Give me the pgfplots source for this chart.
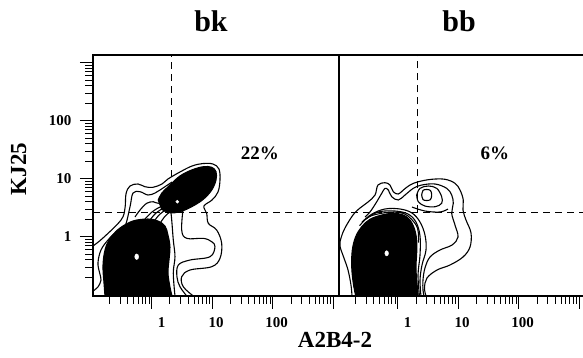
\documentclass[border=0pt]{standalone}
\usepackage{fontspec}
\setmainfont{Liberation Serif}
\usepackage{pgfplots}
\pgfplotsset{compat=1.18}
\begin{document}
\begin{tikzpicture}
\useasboundingbox (0,0) rectangle (583pt,358pt);
\pgfplotsset{
  flow/.style={
    scale only axis, height=241pt,
    ymin=-1.022, ymax=3.133, xmin=-0.970,
    axis line style={-, line width=1.4pt},
    tick align=outside,
    major tick length=13pt, minor tick length=8pt,
    every tick/.style={black, line width=0.9pt},
    every minor tick/.style={black, line width=0.8pt},
    xtick={0,1,2,3}, xticklabels={\hspace{12pt}1,10,100,{}},
    minor xtick={-0.699,-0.523,-0.398,-0.301,-0.222,-0.155,-0.097,-0.046,
      0.301,0.477,0.602,0.699,0.778,0.845,0.903,0.954,
      1.301,1.477,1.602,1.699,1.778,1.845,1.903,1.954,
      2.301,2.477,2.602,2.699,2.778,2.845,2.903,2.954},
    xtick pos=left,
    ticklabel style={font=\fontsize{15}{15}\selectfont\bfseries},
    xticklabel style={xshift=4pt, yshift=-5pt},
    yticklabel style={xshift=-5pt},
  },
  contour/.style={black, line width=1.1pt, smooth, tension=0.6},
  blob/.style={black, fill=black, line width=1.1pt, smooth, tension=0.6},
  quad/.style={black, line width=0.6pt, dash pattern=on 7pt off 5pt},
}
% ---------------- left panel: bk ----------------
\begin{axis}[flow, at={(93pt,62pt)}, anchor=south west, width=246pt, xmax=3.096,
  ytick={0,1,2,3}, yticklabels={1,10,100,{}},
  minor ytick={-0.699,-0.523,-0.398,-0.301,-0.222,-0.155,-0.097,-0.046,
      0.301,0.477,0.602,0.699,0.778,0.845,0.903,0.954,
      1.301,1.477,1.602,1.699,1.778,1.845,1.903,1.954,
      2.301,2.477,2.602,2.699,2.778,2.845,2.903,2.954},
  ytick pos=left]
\addplot[quad] coordinates {(0.319,0.414) (0.319,3.133)};
\addplot[quad] coordinates {(-0.970,0.414) (3.096,0.414)};
% dense lower cluster
\addplot[blob] coordinates {(-0.772,-1.022) (-0.788,-0.798) (-0.805,-0.540) (-0.788,-0.316) (-0.739,-0.126) (-0.656,0.012) (-0.524,0.150) (-0.309,0.271) (-0.061,0.305) (0.104,0.271) (0.220,0.184) (0.269,0.029) (0.302,-0.178) (0.286,-0.402) (0.269,-0.626) (0.302,-0.867) (0.336,-1.022)} -- cycle;
% dense upper cluster
\addplot[blob] coordinates {(0.109,0.633) (0.165,0.748) (0.302,0.891) (0.468,1.047) (0.661,1.150) (0.853,1.207) (0.992,1.197) (1.063,1.121) (1.063,0.978) (0.992,0.805) (0.853,0.645) (0.661,0.517) (0.468,0.431) (0.302,0.414) (0.165,0.472)} -- cycle;
% contour lines
\addplot[contour] coordinates {(-0.970,-0.160) (-0.805,-0.022) (-0.507,0.288) (-0.441,0.495) (-0.425,0.736) (-0.359,0.874) (-0.226,0.909) (-0.111,0.862) (0.021,0.852) (0.170,0.909) (0.269,0.995) (0.468,1.116) (0.666,1.219) (0.848,1.262) (1.013,1.253) (1.112,1.167) (1.129,0.978) (1.096,0.771) (0.997,0.633) (0.864,0.529) (0.909,0.403) (0.936,0.231) (1.074,0.116) (1.157,-0.114) (1.129,-0.372) (0.992,-0.517) (0.633,-0.574) (0.496,-0.690) (0.522,-0.862) (0.688,-1.022)};
\addplot[contour] coordinates {(0.522,0.517) (0.496,0.116) (0.579,-0.028) (0.853,-0.028) (0.992,-0.086) (1.046,-0.172) (0.964,-0.345) (0.633,-0.402) (0.440,-0.488) (0.418,-0.695) (0.468,-0.862) (0.579,-1.022)};
\addplot[contour] coordinates {(0.302,0.581) (0.331,0.288) (0.357,-0.057) (0.385,-0.345) (0.357,-0.626) (0.385,-1.022)};
\addplot[contour] coordinates {(-0.970,-0.936) (-0.888,-0.867) (-0.838,-0.747) (-0.860,-0.626) (-0.888,-0.453) (-0.838,-0.229) (-0.722,-0.057) (-0.590,0.081) (-0.446,0.172) (-0.359,0.512) (-0.309,0.753) (-0.193,0.776) (-0.061,0.719) (0.055,0.753) (0.137,0.805) (0.236,0.874) (0.336,0.943)};
\addplot[contour] coordinates {(-0.276,0.340) (-0.193,0.460) (-0.083,0.576) (0.026,0.603) (0.109,0.576) (0.220,0.633)};
\addplot[contour] coordinates {(-0.111,0.305) (0.005,0.426) (0.137,0.512) (0.269,0.547)};
\addplot[contour] coordinates {(-0.028,0.288) (0.071,0.409) (0.203,0.495) (0.319,0.529)};
\addplot[contour] coordinates {(0.055,0.288) (0.137,0.391) (0.236,0.460) (0.336,0.495)};
\addplot[contour] coordinates {(0.150,0.250) (0.210,0.340) (0.290,0.420)};
% centres
\addplot[only marks, mark=*, mark size=2.8pt, mark options={fill=white, draw=white, xscale=0.7}] coordinates {(-0.248,-0.345)};
\addplot[only marks, mark=*, mark size=1.5pt, mark options={fill=white, draw=white}] coordinates {(0.423,0.603)};
\node[font=\fontsize{19}{19}\selectfont\bfseries] at (axis cs:1.79,1.43) {22\%};
\end{axis}
% ---------------- right panel: bb ----------------
\begin{axis}[flow, at={(339pt,62pt)}, anchor=south west, width=244pt, xmax=3.063,
  axis x line=box, axis y line=none, ytick=\empty]
\addplot[quad] coordinates {(0.324,0.421) (0.324,3.133)};
\addplot[quad] coordinates {(-0.970,0.421) (3.063,0.421)};
\addplot[blob] coordinates {(-0.694,-1.022) (-0.734,-0.803) (-0.760,-0.517) (-0.750,-0.229) (-0.694,0.000) (-0.595,0.172) (-0.458,0.300) (-0.264,0.374) (-0.073,0.403) (0.093,0.374) (0.203,0.288) (0.274,0.145) (0.314,-0.057) (0.314,-0.286) (0.302,-0.517) (0.314,-0.747) (0.341,-1.022)} -- cycle;
\addplot[contour] coordinates {(-0.755,-1.022) (-0.772,-0.833) (-0.821,-0.574) (-0.888,-0.367) (-0.954,-0.160) (-0.937,-0.022) (-0.871,0.150) (-0.739,0.374) (-0.623,0.495) (-0.491,0.598) (-0.375,0.719) (-0.326,0.891) (-0.210,0.931) (-0.127,0.891) (-0.073,0.776) (0.010,0.736) (0.093,0.805) (0.203,0.891) (0.341,0.948) (0.562,0.990) (0.782,0.990) (0.947,0.921) (1.030,0.805) (1.084,0.633) (1.079,0.460) (1.129,0.288) (1.212,0.064) (1.195,-0.178) (1.079,-0.350) (0.864,-0.488) (0.650,-0.574) (0.484,-0.712) (0.443,-0.884) (0.468,-1.022)};
\addplot[contour] coordinates {(-0.540,0.340) (-0.458,0.426) (-0.359,0.581) (-0.264,0.748) (-0.210,0.834) (-0.155,0.805) (-0.099,0.690) (0.010,0.633) (0.121,0.719) (0.258,0.834) (0.397,0.891) (0.617,0.909) (0.810,0.834) (0.893,0.719) (0.919,0.576) (0.893,0.403) (0.947,0.202) (0.997,-0.005) (0.898,-0.143) (0.699,-0.229) (0.534,-0.350) (0.451,-0.540) (0.418,-0.747) (0.418,-0.919) (0.435,-1.022)};
\addplot[contour] coordinates {(-0.590,0.253) (-0.425,0.391) (-0.210,0.478) (0.038,0.478) (0.236,0.409) (0.369,0.253) (0.451,0.029) (0.468,-0.229) (0.402,-0.488) (0.369,-0.747) (0.385,-1.022)};
\addplot[contour] coordinates {(-0.524,0.305) (-0.326,0.426) (-0.045,0.443) (0.170,0.391) (0.302,0.253) (0.369,0.012) (0.369,-0.316) (0.336,-0.660) (0.360,-1.022)};
\addplot[contour] coordinates {(-0.630,0.190) (-0.480,0.340) (-0.264,0.405) (-0.073,0.425) (0.100,0.400) (0.230,0.300) (0.330,0.140) (0.345,-0.100)};
\addplot[contour] coordinates {(0.397,0.719) (0.418,0.797) (0.479,0.814) (0.542,0.797) (0.562,0.719) (0.542,0.641) (0.479,0.624) (0.418,0.641) (0.397,0.719)};
\addplot[contour] coordinates {(0.314,0.719) (0.369,0.834) (0.506,0.874) (0.645,0.834) (0.727,0.690) (0.727,0.576) (0.617,0.517) (0.451,0.529) (0.341,0.603) (0.314,0.719)};
\addplot[contour] coordinates {(0.236,0.512) (0.451,0.443) (0.699,0.426) (0.831,0.478)};
\addplot[only marks, mark=*, mark size=2.6pt, mark options={fill=white, draw=white, xscale=0.7}] coordinates {(-0.182,-0.286)};
\node[font=\fontsize{19}{19}\selectfont\bfseries] at (axis cs:1.608,1.434) {6\%};
\end{axis}
% titles and axis labels
\node[anchor=base, font=\fontsize{30}{30}\selectfont\bfseries] at (211pt,326pt) {bk};
\node[anchor=base, font=\fontsize{30}{30}\selectfont\bfseries] at (459pt,326pt) {bb};
\node[anchor=base, rotate=90, font=\fontsize{23}{23}\selectfont\bfseries] at (26pt,189pt) {KJ25};
\node[anchor=base, font=\fontsize{23}{23}\selectfont\bfseries] at (335pt,10pt) {A2B4-2};
\end{tikzpicture}
\end{document}
